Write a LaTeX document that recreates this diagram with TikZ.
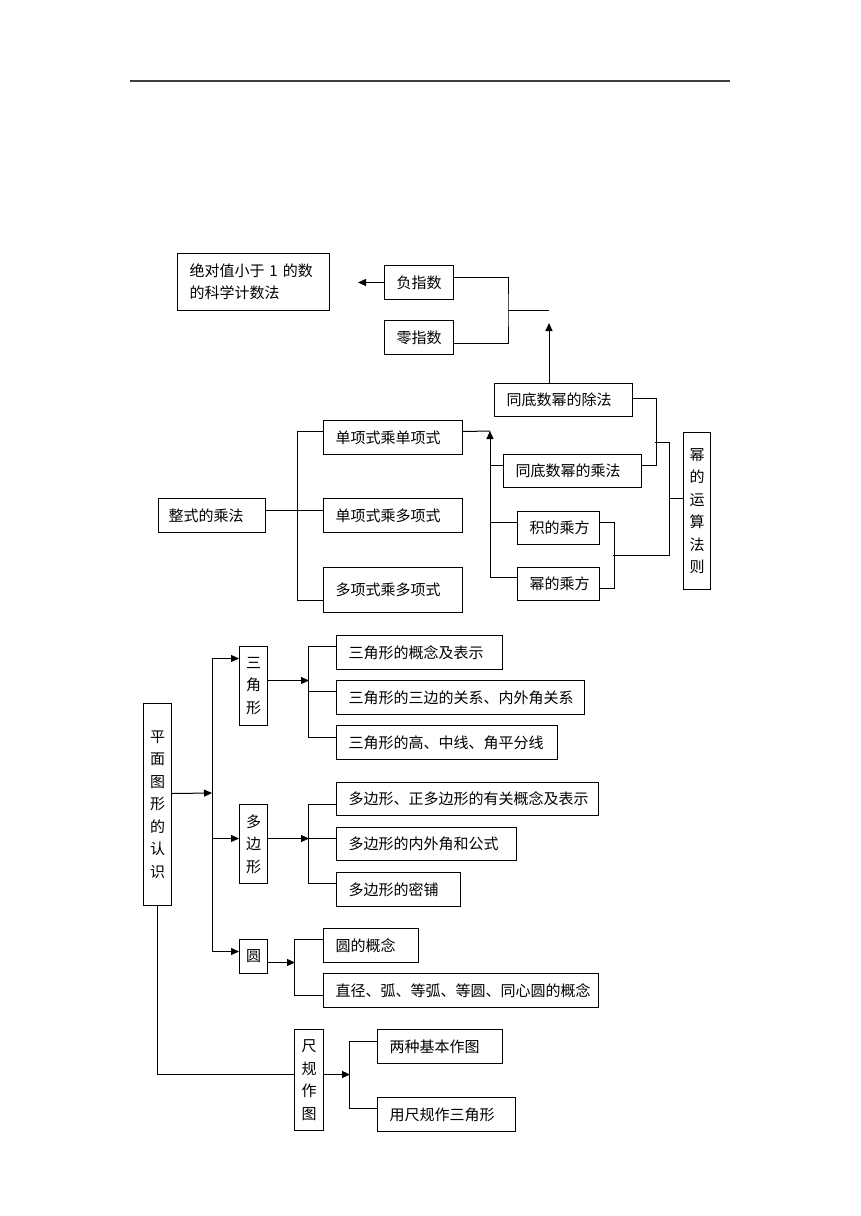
\documentclass[tikz,border=0pt]{standalone}
\usepackage{fontspec}
\newfontfamily\cjk{Noto Sans CJK SC}
\usetikzlibrary{arrows.meta}
\tikzset{
	kbox/.style={draw, line width=1pt, anchor=north west, inner xsep=12pt, inner ysep=0pt, align=left, font=\cjk\fontsize{15pt}{22pt}\selectfont},
	vbox/.style={draw, line width=1pt, anchor=north west, inner sep=0pt, align=center, font=\cjk\fontsize{15pt}{22.5pt}\selectfont},
	link/.style={line width=1pt},
	arr/.style={line width=1pt, -{Triangle[length=8pt,width=7pt]}}
}
\begin{document}
\begin{tikzpicture}[x=1pt, y=-1pt]
		%%%%% START %%%%%
		\useasboundingbox (0,0) rectangle (860,1216);
		
		\draw[line width=1.5pt, black!75] (130,81) -- (730,81);
		
		% powers
		\node[kbox, text width=128pt, minimum height=57pt] (sci) at (177,253) {绝对值小于 1 的数\\的科学计数法};
		\node[kbox, text width=45pt, minimum height=34pt] (neg) at (384,265) {负指数};
		\node[kbox, text width=45pt, minimum height=34pt] (zero) at (384,320) {零指数};
		\node[kbox, text width=114pt, minimum height=33pt] (div) at (494,383) {同底数幂的除法};
		\node[kbox, text width=114pt, minimum height=33pt] (same) at (503,454) {同底数幂的乘法};
		\node[kbox, text width=58pt, minimum height=33pt] (prod) at (517,511) {积的乘方};
		\node[kbox, text width=58pt, minimum height=33pt] (pw) at (517,567) {幂的乘方};
		\node[vbox, text width=27pt, minimum height=157pt] (rule) at (683,432) {幂\\的\\运\\算\\法\\则};
		
		\coordinate (jz) at (508,310);
		\coordinate (up) at (549,310);
		\coordinate (ua) at (490,431);
		\coordinate (dm) at (655,442);
		\coordinate (pm) at (613,555);
		\coordinate (rb) at (669,498);
		
		\draw[arr, shorten >=28pt] (neg.west) -- (neg.west -| sci.east);
		\draw[link] ([yshift=5pt]neg.east) -| (jz) |- ([yshift=-6pt]zero.east);
		\draw[link] (jz) -- (up);
		\draw[arr, shorten >=13pt] (div.north -| up) -- (up);
		
		\draw[link] ([yshift=1.5pt]div.east) -- ++(23,0) |- ([yshift=5.5pt]same.east);
		\draw[link] ([yshift=5.5pt]prod.east) -- ++(14,0) |- ([yshift=-4.5pt]pw.east);
		\draw[link] (dm) -| (pm -| rb) -- (pm);
		\draw[link] (rb) -- (rule.west |- rb);
		
		% polynomial multiplication
		\node[kbox, text width=87pt, minimum height=34pt, inner xsep=10pt] (mul) at (158,498) {整式的乘法};
		\node[kbox, text width=115pt, minimum height=34pt] (mm1) at (323,420) {单项式乘单项式};
		\node[kbox, text width=115pt, minimum height=34pt] (mm2) at (323,498) {单项式乘多项式};
		\node[kbox, text width=115pt, minimum height=45pt] (mm3) at (323,567) {多项式乘多项式};
		
		\draw[link] ([yshift=5pt]mul.east) -- ([yshift=5pt]mm2.west);
		\draw[link] ([yshift=6pt]mm1.west) -- ++(-26,0) |- ([yshift=-10.5pt]mm3.west);
		\draw[link] ([yshift=6pt]mm1.east) -- (ua);
		\draw[arr] ([yshift=6.5pt]pw.west) -| (ua);
		\draw[link] ([yshift=5.5pt]same.west) -- ([yshift=5.5pt]same.west -| ua);
		\draw[link] ([yshift=5.5pt]prod.west) -- ([yshift=5.5pt]prod.west -| ua);
		
		% plane figures
		\node[vbox, text width=28pt, minimum height=202pt] (plane) at (143,703) {平\\面\\图\\形\\的\\认\\识};
		\node[vbox, text width=28pt, minimum height=79pt] (tri) at (239,646) {三\\角\\形};
		\node[vbox, text width=28pt, minimum height=79pt] (poly) at (239,804) {多\\边\\形};
		\node[vbox, text width=28pt, minimum height=34pt] (circ) at (239,939) {圆};
		\node[vbox, text width=29pt, minimum height=101pt] (ruler) at (294,1029) {尺\\规\\作\\图};
		
		\node[kbox, text width=142pt, minimum height=34pt] (t1) at (336,635) {三角形的概念及表示};
		\node[kbox, text width=224pt, minimum height=34pt] (t2) at (336,680) {三角形的三边的关系、内外角关系};
		\node[kbox, text width=197pt, minimum height=34pt] (t3) at (336,725) {三角形的高、中线、角平分线};
		\node[kbox, text width=238pt, minimum height=33pt] (p1) at (336,782) {多边形、正多边形的有关概念及表示};
		\node[kbox, text width=156pt, minimum height=33pt] (p2) at (336,827) {多边形的内外角和公式};
		\node[kbox, text width=100pt, minimum height=34pt] (p3) at (336,872) {多边形的密铺};
		\node[kbox, text width=71pt, minimum height=34pt] (c1) at (323,928) {圆的概念};
		\node[kbox, text width=251pt, minimum height=34pt] (c2) at (323,973) {直径、弧、等弧、等圆、同心圆的概念};
		\node[kbox, text width=101pt, minimum height=34pt] (r1) at (377,1029) {两种基本作图};
		\node[kbox, text width=114pt, minimum height=34pt] (r2) at (377,1097) {用尺规作三角形};
		
		\coordinate (pv) at (212,793);
		
		\draw[arr] ([yshift=11pt]plane.east) -- (pv);
		\draw[arr] (pv) |- ([yshift=27.5pt]tri.west);
		\draw[arr] (pv) |- ([yshift=5.5pt]poly.west);
		\draw[arr] (pv) |- ([yshift=5pt]circ.west);
		
		\draw[arr] ([yshift=5.5pt]tri.east) -- ++(41,0);
		\draw[link] ([yshift=6pt]t1.west) -- ++(-28,0) |- ([yshift=5pt]t3.west);
		\draw[link] ([yshift=6pt]t2.west) -- ++(-28,0);
		
		\draw[arr] ([yshift=5.5pt]poly.east) -- ++(41,0);
		\draw[link] ([yshift=-5.5pt]p1.west) -- ++(-28,0) |- ([yshift=6pt]p3.west);
		\draw[link] ([yshift=5.5pt]p2.west) -- ++(-28,0);
		
		\draw[arr] ([yshift=-6pt]circ.east) -- ++(27,0);
		\draw[link] ([yshift=6pt]c1.west) -- ++(-29,0) |- ([yshift=-5pt]c2.west);
		
		\draw[link] (plane.south) |- ([yshift=5.5pt]ruler.west);
		\draw[arr] ([yshift=5.5pt]ruler.east) -- ++(26,0);
		\draw[link] ([yshift=5pt]r1.west) -- ++(-28,0) |- ([yshift=6pt]r2.west);
		
		%%%%% END %%%%%
	\end{tikzpicture}
\end{document}
